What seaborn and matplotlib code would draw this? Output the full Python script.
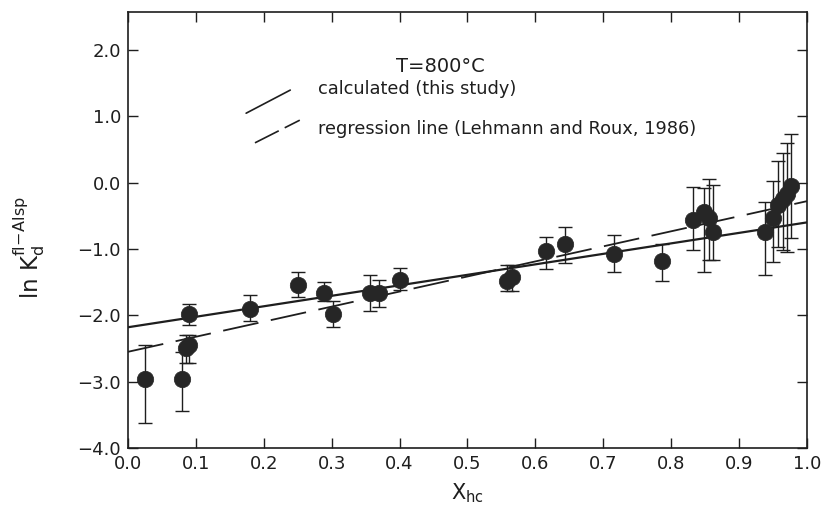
import numpy as np
import pandas as pd
import matplotlib
matplotlib.use("Agg")
import matplotlib.pyplot as plt
import seaborn as sns

# ---- data ----
x_hc = [0.025, 0.079, 0.086, 0.090, 0.090, 0.180, 0.251, 0.289, 0.302, 0.356,
        0.369, 0.400, 0.558, 0.566, 0.616, 0.643, 0.716, 0.787, 0.832, 0.849,
        0.856, 0.862, 0.938, 0.950, 0.958, 0.964, 0.970, 0.977]
ln_kd = [-2.96, -2.96, -2.50, -2.44, -1.98, -1.90, -1.54, -1.66, -1.98, -1.66,
         -1.66, -1.47, -1.49, -1.43, -1.03, -0.93, -1.08, -1.18, -0.57, -0.45,
         -0.54, -0.74, -0.74, -0.53, -0.34, -0.25, -0.17, -0.05]
err_hi = [-2.45, -2.55, -2.30, -2.30, -1.83, -1.70, -1.34, -1.50, -1.79, -1.40,
          -1.47, -1.29, -1.24, -1.24, -0.82, -0.67, -0.79, -0.92, -0.06, -0.08,
          0.06, -0.03, -0.30, 0.02, 0.33, 0.45, 0.59, 0.73]
err_lo = [-3.63, -3.44, -2.72, -2.72, -2.14, -2.09, -1.73, -1.79, -2.17, -1.94,
          -1.88, -1.62, -1.64, -1.64, -1.30, -1.21, -1.34, -1.48, -1.01, -1.35,
          -1.17, -1.17, -1.39, -1.20, -0.97, -1.02, -1.05, -0.83]

line_x = [0.0, 1.0]
calc_y = [-2.18, -0.60]        # calculated (this study)
regr_y = [-2.55, -0.28]        # regression line (Lehmann and Roux, 1986)

x_ticks = [0.0, 0.1, 0.2, 0.3, 0.4, 0.5, 0.6, 0.7, 0.8, 0.9, 1.0]
y_ticks = [-4.0, -3.0, -2.0, -1.0, 0.0, 1.0, 2.0]

title_text = "T=800°C"
legend_labels = ["calculated (this study)", "regression line (Lehmann and Roux, 1986)"]

# ---- plotting ----
sns.set_style("ticks")
plt.rcParams["font.family"] = ["DejaVu Sans"]
plt.rcParams["axes.unicode_minus"] = True

ink = "#1e1e1e"
fig = plt.figure(figsize=(8.29, 5.24), dpi=100)
ax = fig.add_axes([0.1544, 0.145, 0.819, 0.832])

df_pts = pd.DataFrame({"x": x_hc, "y": ln_kd})
df_lines = pd.DataFrame({"x": line_x + line_x,
                         "y": calc_y + regr_y,
                         "kind": ["calc"] * 2 + ["regr"] * 2})

y = np.array(ln_kd)
yerr = np.vstack([y - np.array(err_lo), np.array(err_hi) - y])
ax.errorbar(x_hc, ln_kd, yerr=yerr, fmt="none", ecolor=ink, elinewidth=1.0,
            capsize=5, capthick=1.0, zorder=2)

sns.lineplot(data=df_lines[df_lines.kind == "calc"], x="x", y="y", ax=ax,
             color=ink, linewidth=1.6, zorder=3)
sns.lineplot(data=df_lines[df_lines.kind == "regr"], x="x", y="y", ax=ax,
             color=ink, linewidth=1.3, zorder=3)
ax.lines[-1].set_dashes((20, 7))

sns.scatterplot(data=df_pts, x="x", y="y", ax=ax, s=140, color="#262626",
                edgecolor="#262626", linewidth=0.5, zorder=4)

ax.set_xlim(0.0, 1.0)
ax.set_ylim(-4.0, 2.57)
ax.set_xticks(x_ticks)
ax.set_xticklabels([f"{t:.1f}" for t in x_ticks])
ax.set_yticks(y_ticks)
ax.set_yticklabels([f"{t:.1f}".replace("-", "\u2212") for t in y_ticks])
ax.tick_params(direction="in", length=7, width=1.0, colors=ink, labelsize=13,
               top=True, right=True, labelcolor=ink, pad=5)

for s in ax.spines.values():
    s.set_linewidth(1.2)
    s.set_color(ink)

ax.set_xlabel(r"X$_\mathregular{hc}$", fontsize=15, color=ink, labelpad=6)
ax.set_ylabel(r"ln K$_\mathregular{d}^\mathregular{fl\!-\!Alsp}$", fontsize=16.5,
              color=ink)
ax.yaxis.set_label_coords(-0.12, 0.46)

# annotations / legend
ax.text(0.460, 0.875, title_text, transform=ax.transAxes, fontsize=14,
        ha="center", va="center", color=ink)
ax.plot([0.174, 0.239], [0.768, 0.821], transform=ax.transAxes, color=ink, lw=1.2)
leg2, = ax.plot([0.187, 0.253], [0.700, 0.752], transform=ax.transAxes, color=ink, lw=1.2)
leg2.set_dashes((16, 4))
ax.text(0.280, 0.823, legend_labels[0], transform=ax.transAxes, fontsize=12.8,
        ha="left", va="center", color=ink)
ax.text(0.280, 0.732, legend_labels[1], transform=ax.transAxes, fontsize=12.8,
        ha="left", va="center", color=ink)

fig.savefig("out.png", dpi=100)
